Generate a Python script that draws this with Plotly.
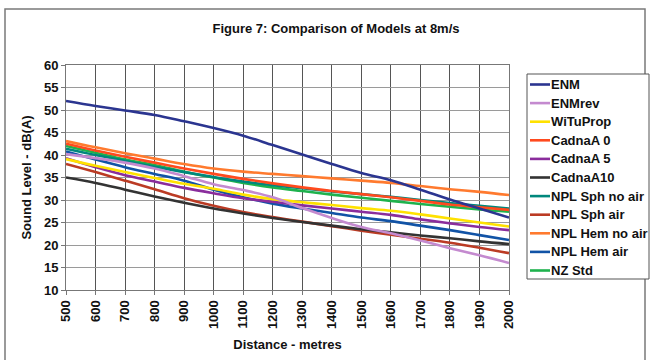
import plotly.graph_objects as go

# Distance from source (m)
distance = [500, 600, 700, 800, 900, 1000, 1100, 1200, 1300, 1400,
            1500, 1600, 1700, 1800, 1900, 2000]

# Predicted sound levels, dB(A)
enm = [52.0, 50.9, 49.9, 48.9, 47.5, 46.0, 44.3, 42.2, 40.1, 38.0,
       36.0, 34.4, 32.3, 30.1, 28.1, 26.1]
enm_rev = [40.2, 39.3, 38.3, 37.0, 35.3, 33.5, 32.2, 30.6, 28.2, 26.0,
           24.0, 22.6, 21.0, 19.3, 17.7, 16.0]
witu_prop = [39.1, 37.6, 36.2, 34.9, 33.6, 32.5, 31.2, 30.2, 29.5, 28.9,
             28.2, 27.6, 26.8, 25.9, 25.0, 24.1]
cadna_0 = [42.5, 41.0, 39.6, 38.3, 37.0, 35.8, 34.7, 33.7, 32.8, 32.0,
           31.3, 30.6, 29.8, 29.0, 28.4, 27.8]
cadna_5 = [39.3, 37.3, 35.5, 34.1, 32.7, 31.5, 30.4, 29.6, 28.8, 28.1,
           27.4, 26.7, 25.7, 24.8, 24.0, 23.3]
cadna_10 = [35.0, 33.8, 32.3, 30.8, 29.4, 28.1, 27.0, 26.0, 25.1, 24.3,
            23.5, 22.8, 22.1, 21.5, 20.8, 20.2]
npl_sph_no_air = [41.4, 40.0, 38.7, 37.4, 36.2, 35.1, 34.1, 33.3, 32.6, 31.9,
                  31.3, 30.7, 30.0, 29.3, 28.7, 28.1]
npl_sph_air = [38.0, 36.2, 34.3, 32.4, 30.4, 28.7, 27.3, 26.2, 25.2, 24.2,
               23.2, 22.3, 21.4, 20.5, 19.4, 18.2]
npl_hem_no_air = [43.1, 41.7, 40.4, 39.2, 38.0, 37.0, 36.3, 35.8, 35.3, 34.8,
                  34.3, 33.8, 33.1, 32.4, 31.8, 31.1]
npl_hem_air = [40.8, 39.0, 37.3, 35.8, 34.3, 32.3, 30.6, 29.2, 28.1, 27.1,
               26.1, 25.3, 24.3, 23.3, 22.2, 21.1]
nz_std = [42.0, 40.5, 39.0, 37.8, 36.3, 35.0, 33.8, 32.8, 32.0, 31.2,
          30.5, 29.8, 29.1, 28.5, 27.9, 27.4]

series_names = ["ENM", "ENMrev", "WiTuProp", "CadnaA 0", "CadnaA 5", "CadnaA10",
                "NPL Sph no air", "NPL Sph air", "NPL Hem no air", "NPL Hem air",
                "NZ Std"]
series_values = [enm, enm_rev, witu_prop, cadna_0, cadna_5, cadna_10,
                 npl_sph_no_air, npl_sph_air, npl_hem_no_air, npl_hem_air, nz_std]
series_colors = ["#2B3590", "#C48ACF", "#FFE100", "#FF4A1E", "#8A2D9C", "#333333",
                 "#00877C", "#BB3B24", "#FF7A2E", "#1153A6", "#1EB24D"]

y_ticks = list(range(10, 61, 5))
x_ticks = list(range(500, 2001, 100))

W, H = 651, 360
PLOT_L, PLOT_R, PLOT_T, PLOT_B = 66, 509, 65, 290
FONT = "Arial, Liberation Sans, sans-serif"
FS = 13


def px_x(px):
    return (px - PLOT_L) / (PLOT_R - PLOT_L)


def px_y(py):
    return (PLOT_B - py) / (PLOT_B - PLOT_T)


bold = dict(family=FONT, size=FS, color="#111111", weight="bold")

fig = go.Figure()

# draw lines bottom-up so the first series sits on top
for name, vals, col in reversed(list(zip(series_names, series_values, series_colors))):
    fig.add_trace(go.Scatter(
        x=distance, y=vals, name=name, mode="lines",
        line=dict(color=col, width=2.6, shape="spline", smoothing=1),
        showlegend=False,
    ))

shapes = []
annotations = []

# outer frame around the whole figure
shapes.append(dict(type="rect", xref="paper", yref="paper",
                   x0=px_x(5), x1=px_x(645), y0=px_y(375), y1=px_y(9),
                   line=dict(color="#7a7a7a", width=1.5), fillcolor="rgba(0,0,0,0)",
                   layer="below"))

# legend box with line samples and labels
LEG_L, LEG_R, LEG_T, LEG_B = 527, 649, 74, 279
shapes.append(dict(type="rect", xref="paper", yref="paper",
                   x0=px_x(LEG_L), x1=px_x(LEG_R), y0=px_y(LEG_B), y1=px_y(LEG_T),
                   line=dict(color="#555555", width=1), fillcolor="white"))
first_y, step = 84.5, 18.6
for i, (name, col) in enumerate(zip(series_names, series_colors)):
    yy = first_y + i * step
    shapes.append(dict(type="line", xref="paper", yref="paper",
                       x0=px_x(530), x1=px_x(550), y0=px_y(yy), y1=px_y(yy),
                       line=dict(color=col, width=2.6)))
    annotations.append(dict(x=px_x(550), y=px_y(yy), xref="paper", yref="paper",
                            text=name, showarrow=False, xanchor="left", yanchor="middle",
                            xshift=-1, font=bold))

fig.update_layout(
    width=W, height=H,
    margin=dict(l=PLOT_L, r=W - PLOT_R, t=PLOT_T, b=H - PLOT_B, pad=0),
    paper_bgcolor="white", plot_bgcolor="white",
    font=dict(family=FONT, size=FS, color="#111111"),
    title=dict(text="Figure 7: Comparison of Models at 8m/s",
               x=336 / W, xanchor="center", y=1 - 28 / H, yanchor="middle",
               font=bold),
    shapes=shapes,
    annotations=annotations,
    xaxis=dict(
        range=[500, 2000], tickvals=x_ticks, ticktext=[str(v) for v in x_ticks],
        tickangle=-90, ticks="outside", ticklen=4, tickcolor="#777777",
        tickfont=bold,
        showgrid=True, gridcolor="#555555", gridwidth=1,
        showline=True, linecolor="#777777", linewidth=1, mirror=True,
        zeroline=False,
        title=dict(text="Distance - metres", standoff=11, font=bold),
    ),
    yaxis=dict(
        range=[10, 60], tickvals=y_ticks, ticks="outside", ticklen=4,
        tickcolor="#777777",
        tickfont=bold,
        showgrid=True, gridcolor="#9a9a9a", gridwidth=1,
        showline=True, linecolor="#777777", linewidth=1, mirror=True,
        zeroline=False,
        title=dict(text="Sound Level - dB(A)", standoff=9, font=bold),
    ),
)

fig.write_html("out.html")
